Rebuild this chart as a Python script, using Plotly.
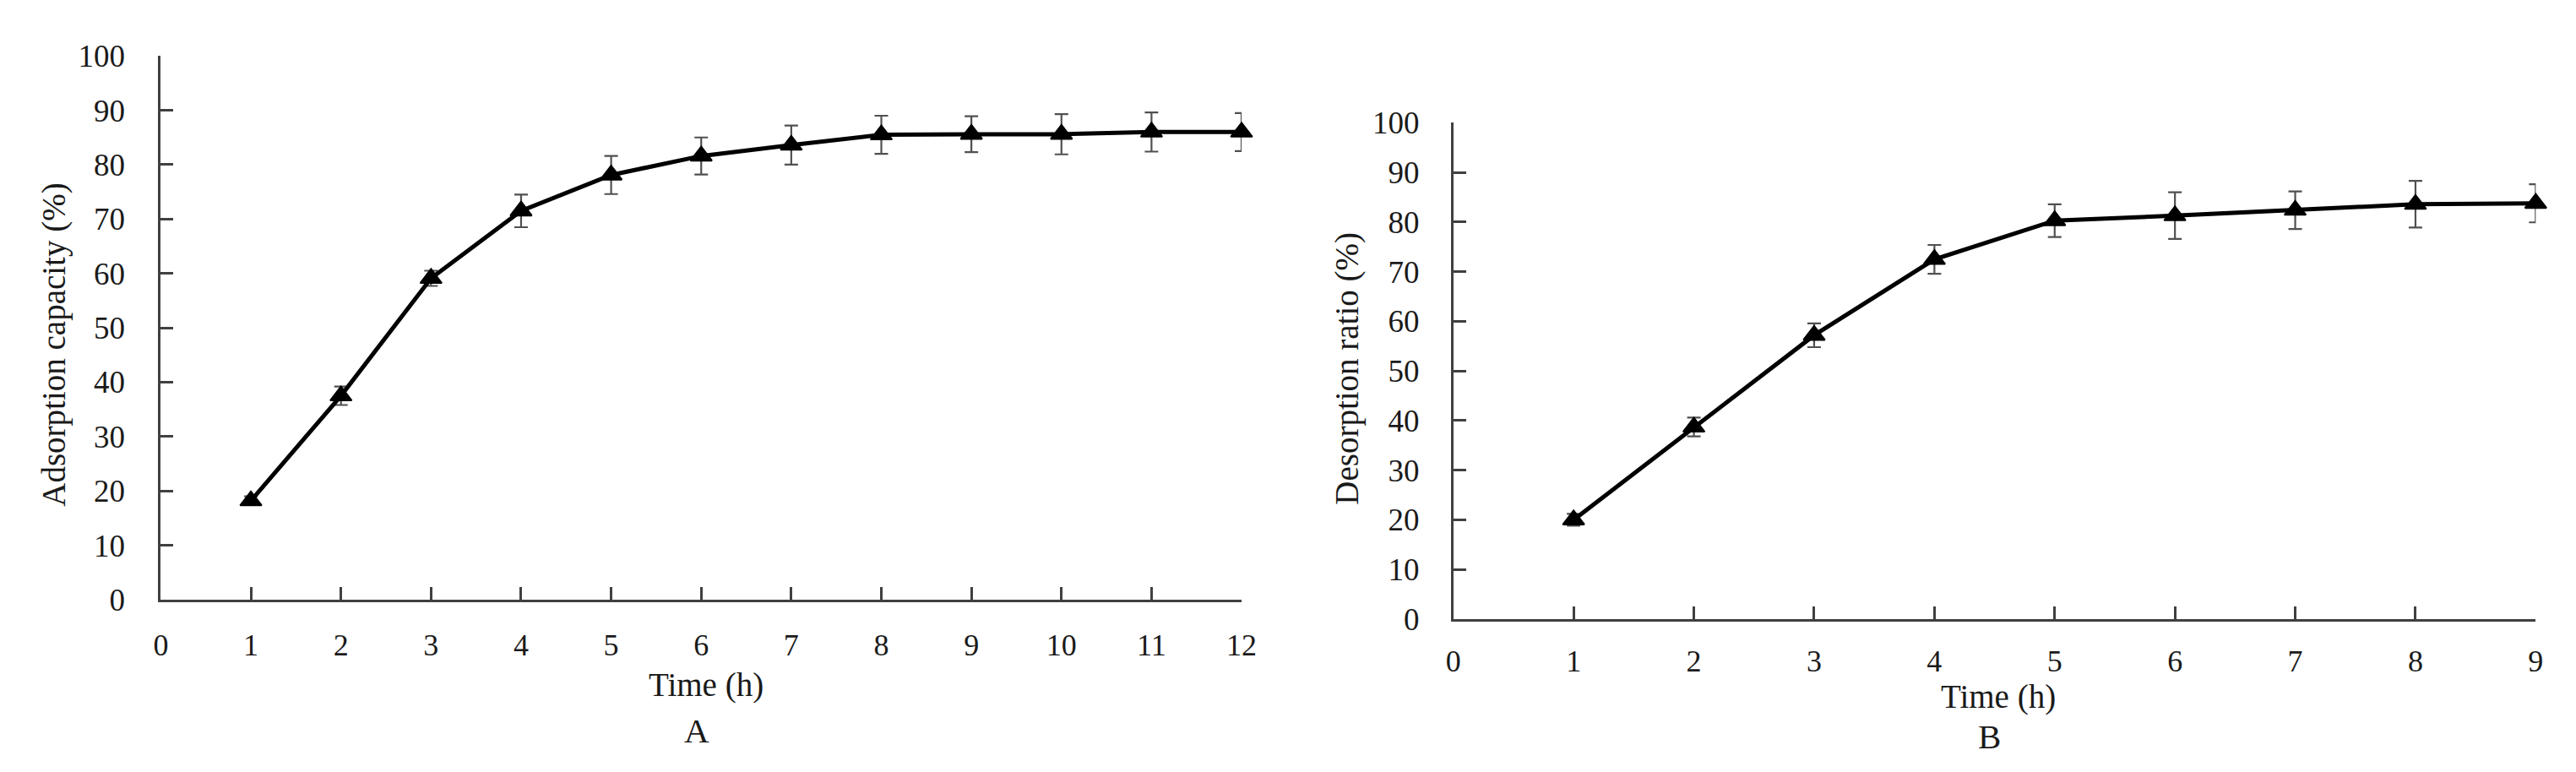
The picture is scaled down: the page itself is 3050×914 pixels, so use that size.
import plotly.graph_objects as go

# Panel A data
time_a = [1, 2, 3, 4, 5, 6, 7, 8, 9, 10, 11, 12]
adsorption = [18.2, 37.5, 59.1, 71.5, 78.1, 81.6, 83.6, 85.5, 85.6, 85.6, 86.0, 86.0]
adsorption_err = [0.8, 1.7, 1.4, 3.0, 3.5, 3.4, 3.6, 3.5, 3.3, 3.7, 3.6, 3.5]

# Panel B data
time_b = [1, 2, 3, 4, 5, 6, 7, 8, 9]
desorption = [20.0, 38.7, 57.2, 72.5, 80.3, 81.3, 82.4, 83.6, 83.8]
desorption_err = [1.2, 1.9, 2.4, 2.9, 3.3, 4.7, 3.8, 4.7, 3.85]

x_ticks_a = list(range(0, 13))
x_ticks_b = list(range(0, 10))
y_ticks = list(range(0, 101, 10))

FONT = "Liberation Serif"
AXCOL = "#404040"
TXT = "#1a1a1a"
W, H = 3050, 914

fig = go.Figure()

def add_series(x, y, err, xa, ya):
    fig.add_trace(go.Scatter(
        x=x, y=y, mode="lines+markers", xaxis=xa, yaxis=ya,
        line=dict(color="black", width=5),
        marker=dict(symbol="triangle-up", size=22, color="black",
                    line=dict(color="black", width=2)),
        error_y=dict(type="data", array=err, visible=True, color="#505050",
                     thickness=2.2, width=8),
        cliponaxis=False, showlegend=False,
    ))

add_series(time_a, adsorption, adsorption_err, "x", "y")
add_series(time_b, desorption, desorption_err, "x2", "y2")

def xaxis(domain, ticks, anchor, standoff):
    return dict(domain=domain, range=[0, ticks[-1]], tickvals=ticks,
                ticktext=[str(t) for t in ticks], anchor=anchor,
                showline=True, linecolor=AXCOL, linewidth=3,
                ticks="inside", ticklen=15, tickwidth=3, tickcolor=AXCOL,
                showgrid=False, zeroline=False,
                tickfont=dict(family=FONT, size=36, color=TXT),
                ticklabelstandoff=standoff, fixedrange=True)

def yaxis(domain, anchor, standoff):
    return dict(domain=domain, range=[0, 100], tickvals=y_ticks,
                ticktext=[str(t) for t in y_ticks], anchor=anchor,
                showline=True, linecolor=AXCOL, linewidth=3,
                ticks="inside", ticklen=15, tickwidth=3, tickcolor=AXCOL,
                showgrid=False, zeroline=False,
                tickfont=dict(family=FONT, size=37, color=TXT),
                ticklabelstandoff=standoff, fixedrange=True)

fig.update_layout(
    width=W, height=H,
    margin=dict(l=0, r=0, t=0, b=0),
    paper_bgcolor="white", plot_bgcolor="white",
    xaxis=xaxis([175 / W, 1466 / W], x_ticks_a, "y", 20),
    yaxis=yaxis([1 - 714 / H, 1 - 40 / H], "x", 32),
    xaxis2=xaxis([1719 / W, 3012 / W], x_ticks_b, "y2", 16),
    yaxis2=yaxis([1 - 738 / H, 1 - 123 / H], "x2", 30),
)

def ann(text, x, y, size=39, angle=0):
    fig.add_annotation(text=text, x=x / W, y=1 - y / H, xref="paper", yref="paper",
                       showarrow=False, xanchor="center", yanchor="middle",
                       textangle=angle, font=dict(family=FONT, size=size, color=TXT))

ann("Time (h)", 826, 820)
ann("A", 815, 876, size=41)
ann("Adsorption capacity (%)", 48, 398, angle=-90)
ann("Time (h)", 2370, 834)
ann("B", 2359, 884, size=41)
ann("Desorption ratio (%)", 1592, 427, angle=-90)

fig.write_html("out.html")
